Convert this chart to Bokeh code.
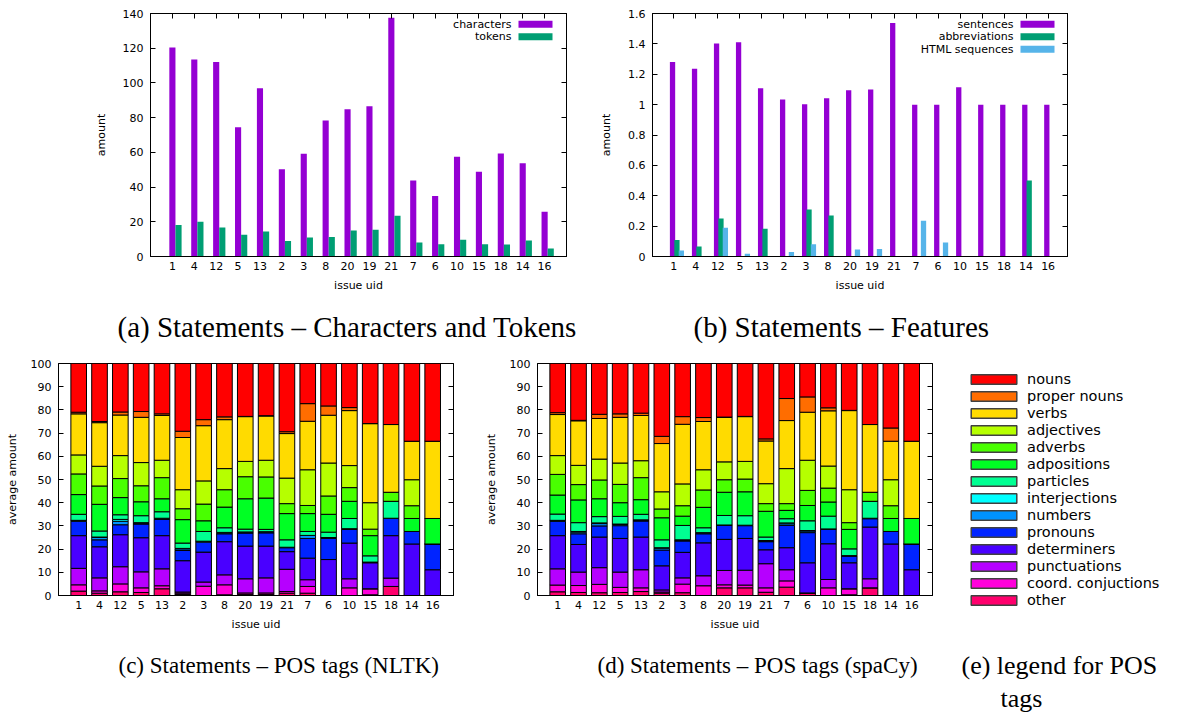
import numpy as np
from bokeh.plotting import figure
from bokeh.layouts import column, row
from bokeh.models import (FixedTicker, LinearAxis, Label, BoxAnnotation, Title,
                          Range1d, Legend, LegendItem)
from bokeh.embed import file_html
from bokeh.resources import INLINE

# ---------------- data ----------------
ISSUES = ["1", "4", "12", "5", "13", "2", "3", "8", "20", "19", "21",
          "7", "6", "10", "15", "18", "14", "16"]

CHARACTERS = [120.4, 113.5, 112.1, 74.4, 96.9, 50.2, 59.2, 78.3, 84.8, 86.5,
              137.5, 43.8, 34.8, 57.5, 48.8, 59.4, 53.7, 25.8]
TOKENS = [18.1, 20.0, 16.7, 12.5, 14.4, 9.0, 11.0, 11.2, 15.0, 15.4,
          23.5, 8.1, 7.1, 9.6, 7.1, 6.9, 9.2, 4.6]

SENTENCES = [1.281, 1.237, 1.402, 1.411, 1.108, 1.033, 1.002, 1.042, 1.095, 1.099,
             1.538, 1.0, 1.0, 1.114, 1.0, 1.0, 1.0, 1.0]
ABBREVIATIONS = [0.108, 0.066, 0.25, 0.0, 0.182, 0.0, 0.31, 0.27, 0.0, 0.0,
                 0.0, 0.0, 0.0, 0.0, 0.0, 0.0, 0.5, 0.0]
HTML_SEQUENCES = [0.04, 0.0, 0.19, 0.018, 0.0, 0.03, 0.08, 0.0, 0.046, 0.05,
                  0.0, 0.235, 0.092, 0.0, 0.0, 0.0, 0.0, 0.0]

Y1_TICKS = [0, 20, 40, 60, 80, 100, 120, 140]
Y2_TICKS = [0, 0.2, 0.4, 0.6, 0.8, 1, 1.2, 1.4, 1.6]
Y2_LABELS = ["0", "0.2", "0.4", "0.6", "0.8", "1", "1.2", "1.4", "1.6"]
Y3_TICKS = [0, 10, 20, 30, 40, 50, 60, 70, 80, 90, 100]

POS_TAGS = ["nouns", "proper nouns", "verbs", "adjectives", "adverbs", "adpositions",
            "particles", "interjections", "numbers", "pronouns", "determiners",
            "punctuations", "coord. conjuctions", "other"]
POS_COLORS = ["#FF0000", "#FF6D00", "#FFDB00", "#B6FF00", "#49FF00", "#00FF24",
              "#00FF92", "#00FFFF", "#0092FF", "#0024FF", "#4900FF", "#B600FF",
              "#FF00DB", "#FF006D"]

# cumulative average amount (%) at the top of each tag, stacked from the bottom:
# other, coord. conj., punctuations, determiners, pronouns, numbers, interjections,
# particles, adpositions, adverbs, adjectives, verbs, proper nouns, nouns
NLTK_CUM = {
    "1":  [1.9, 4.6, 11.7, 25.8, 32.0, 32.4, 32.4, 35.0, 43.5, 52.4, 60.6, 78.3, 79.0, 100],
    "4":  [1.0, 2.0, 7.6, 21.0, 24.0, 25.0, 25.2, 27.8, 39.3, 47.2, 55.7, 74.5, 75.0, 100],
    "12": [1.6, 5.0, 12.4, 26.2, 30.5, 32.0, 32.8, 34.8, 42.2, 50.4, 60.3, 77.8, 79.1, 100],
    "5":  [1.3, 3.3, 10.2, 24.9, 30.8, 31.2, 31.4, 34.4, 40.4, 47.3, 57.3, 76.8, 79.3, 100],
    "13": [2.9, 4.2, 11.5, 25.8, 32.8, 33.1, 33.3, 36.1, 41.7, 50.8, 58.3, 77.6, 78.3, 100],
    "2":  [0.4, 1.0, 1.5, 15.0, 19.4, 20.1, 20.3, 22.6, 32.7, 37.4, 45.6, 68.1, 70.8, 100],
    "3":  [0.0, 4.0, 5.8, 18.7, 23.0, 23.3, 23.4, 27.6, 32.2, 39.4, 49.4, 73.2, 75.8, 100],
    "8":  [0.3, 4.6, 8.9, 23.2, 26.6, 27.0, 27.2, 29.2, 38.1, 45.6, 54.7, 75.8, 77.0, 100],
    "20": [0.5, 1.1, 7.2, 21.3, 26.9, 27.3, 27.4, 28.6, 41.7, 51.2, 57.8, 77.1, 77.2, 100],
    "19": [0.5, 1.1, 7.6, 21.3, 27.0, 27.4, 27.5, 28.5, 42.0, 51.1, 58.3, 77.4, 77.5, 100],
    "21": [1.0, 1.7, 11.3, 18.9, 20.6, 20.7, 20.8, 24.0, 35.3, 39.6, 50.6, 69.8, 70.6, 100],
    "7":  [1.0, 3.9, 6.8, 16.1, 24.6, 25.9, 25.9, 27.6, 35.3, 38.8, 54.2, 75.1, 82.7, 100],
    "6":  [0.0, 0.0, 0.0, 15.5, 24.6, 24.9, 25.0, 27.3, 35.0, 42.9, 57.1, 77.7, 81.7, 100],
    "10": [0.0, 3.3, 7.2, 22.6, 28.5, 28.7, 28.8, 33.2, 40.6, 46.5, 56.0, 79.7, 81.0, 100],
    "15": [0.3, 2.9, 2.9, 14.1, 14.3, 14.3, 14.4, 17.1, 25.8, 28.6, 40.0, 74.1, 74.1, 100],
    "18": [3.9, 3.9, 7.5, 25.8, 33.2, 33.2, 33.3, 40.6, 40.6, 44.5, 44.5, 73.7, 73.7, 100],
    "14": [0.0, 0.0, 0.0, 22.2, 27.6, 27.6, 27.6, 27.6, 33.2, 38.7, 49.9, 66.5, 66.5, 100],
    "16": [0.0, 0.0, 0.0, 11.1, 22.2, 22.2, 22.2, 22.2, 33.2, 33.2, 33.2, 66.5, 66.5, 100],
}
SPACY_CUM = {
    "1":  [1.6, 4.5, 11.5, 25.8, 32.0, 32.3, 32.4, 35.1, 43.3, 52.2, 60.3, 78.0, 78.8, 100],
    "4":  [1.3, 4.3, 10.1, 22.0, 26.6, 27.3, 27.6, 31.4, 41.2, 47.8, 56.1, 75.3, 75.5, 100],
    "12": [1.2, 4.8, 12.0, 25.2, 30.0, 31.0, 31.3, 34.0, 41.7, 49.8, 58.8, 76.3, 78.1, 100],
    "5":  [1.3, 3.5, 10.1, 24.6, 30.1, 30.6, 30.8, 34.1, 40.0, 47.9, 57.1, 76.8, 78.3, 100],
    "13": [1.7, 3.3, 11.1, 25.2, 32.1, 32.5, 32.6, 35.0, 41.3, 50.8, 58.1, 77.6, 78.6, 100],
    "2":  [1.0, 1.5, 2.4, 12.8, 19.6, 20.4, 20.6, 24.0, 33.5, 37.3, 44.7, 65.5, 68.6, 100],
    "3":  [1.2, 4.9, 7.6, 18.6, 23.5, 23.8, 24.0, 30.2, 34.2, 38.7, 48.1, 73.8, 77.1, 100],
    "8":  [0.0, 4.2, 8.5, 22.7, 26.6, 27.0, 27.1, 29.2, 38.0, 45.5, 54.2, 75.0, 76.7, 100],
    "20": [3.3, 4.6, 10.8, 24.2, 30.2, 30.3, 30.4, 34.5, 44.5, 49.9, 57.6, 76.8, 76.9, 100],
    "19": [3.3, 4.5, 10.9, 24.6, 30.1, 30.2, 30.3, 34.4, 44.7, 50.2, 57.8, 77.1, 77.2, 100],
    "21": [1.4, 3.3, 13.7, 19.7, 23.2, 23.5, 23.7, 25.2, 36.3, 39.6, 48.2, 66.6, 67.5, 100],
    "7":  [3.6, 6.3, 11.1, 20.6, 30.2, 30.9, 31.3, 33.1, 36.7, 39.6, 54.7, 75.4, 84.9, 100],
    "6":  [1.1, 1.1, 1.1, 14.1, 27.1, 27.8, 28.0, 32.2, 38.8, 45.3, 58.3, 79.0, 85.6, 100],
    "10": [0.0, 3.3, 6.9, 22.3, 28.5, 28.6, 28.7, 34.2, 40.3, 46.3, 55.8, 79.6, 80.9, 100],
    "15": [0.3, 2.9, 2.9, 14.1, 17.0, 17.1, 17.2, 20.1, 28.5, 31.4, 45.6, 79.7, 79.8, 100],
    "18": [3.3, 3.3, 7.2, 29.5, 33.1, 33.2, 33.3, 40.6, 40.6, 44.5, 44.5, 73.7, 73.7, 100],
    "14": [0.0, 0.0, 0.0, 22.2, 27.6, 27.6, 27.6, 27.6, 33.2, 38.7, 49.9, 66.5, 72.2, 100],
    "16": [0.0, 0.0, 0.0, 11.1, 22.2, 22.2, 22.2, 22.2, 33.2, 33.2, 33.2, 66.5, 66.5, 100],
}

# ---------------- styling ----------------
FONT = "DejaVu Sans"
SERIF = "Liberation Serif"
TICK_FS = "11px"
PURPLE, GREEN, SKY = "#9400D3", "#009E73", "#56B4E9"
idx = np.arange(len(ISSUES))


def make_fig(w, h, xr, yr, bl, br, bt, bb):
    p = figure(width=w, height=h, x_range=Range1d(*xr), y_range=Range1d(*yr),
               output_backend="svg", toolbar_location=None,
               min_border_left=bl, min_border_right=br,
               min_border_top=bt, min_border_bottom=bb)
    p.xgrid.visible = False
    p.ygrid.visible = False
    p.outline_line_color = "black"
    p.outline_line_alpha = 1
    p.outline_line_width = 1
    p.background_fill_color = "white"
    p.border_fill_color = "white"
    return p


def mirror_axis(ticks):
    return LinearAxis(ticker=FixedTicker(ticks=ticks), major_tick_in=5, major_tick_out=0,
                      minor_tick_line_color=None, major_label_text_font_size="1px",
                      major_label_text_color=None, major_label_standoff=0,
                      axis_line_color="black")


def style_axes(p, yticks, ylabel, ylabels=None, top_ticks=True, ylab_standoff=12):
    xa = p.xaxis[0]
    xa.ticker = FixedTicker(ticks=list(range(len(ISSUES))))
    xa.major_label_overrides = {i: c for i, c in enumerate(ISSUES)}
    xa.major_tick_in = 0
    xa.major_tick_out = 0
    xa.minor_tick_line_color = None
    xa.axis_line_color = "black"
    xa.major_label_standoff = 5
    xa.major_label_text_font = FONT
    xa.major_label_text_font_size = TICK_FS
    xa.major_label_text_color = "black"
    xa.axis_label = "issue uid"
    xa.axis_label_standoff = 6
    xa.axis_label_text_font = FONT
    xa.axis_label_text_font_size = TICK_FS
    xa.axis_label_text_font_style = "normal"
    xa.axis_label_text_color = "black"

    ya = p.yaxis[0]
    ya.ticker = FixedTicker(ticks=yticks)
    if ylabels is not None:
        ya.major_label_overrides = dict(zip(yticks, ylabels))
    ya.major_tick_in = 5
    ya.major_tick_out = 0
    ya.minor_tick_line_color = None
    ya.axis_line_color = "black"
    ya.major_label_standoff = 7
    ya.major_label_text_font = FONT
    ya.major_label_text_font_size = TICK_FS
    ya.major_label_text_color = "black"
    ya.axis_label = ylabel
    ya.axis_label_standoff = ylab_standoff
    ya.axis_label_text_font = FONT
    ya.axis_label_text_font_size = TICK_FS
    ya.axis_label_text_font_style = "normal"
    ya.axis_label_text_color = "black"

    p.add_layout(mirror_axis(yticks), "right")
    if top_ticks:
        p.add_layout(mirror_axis(list(range(len(ISSUES)))), "above")


def add_caption(p, text, offset, standoff, size):
    p.add_layout(Title(text=text, align="left", offset=offset, standoff=standoff,
                       text_font=SERIF, text_font_size=size,
                       text_font_style="normal", text_color="black"), "below")


def add_key(p, entries, frame_h):
    for i, (lab, col) in enumerate(entries):
        yc = frame_h - 10.7 - 12.5 * i
        p.add_layout(BoxAnnotation(left=368, right=402, bottom=yc - 3.5, top=yc + 3.5,
                                   left_units="screen", right_units="screen",
                                   top_units="screen", bottom_units="screen",
                                   fill_color=col, fill_alpha=1, line_color=None))
        p.add_layout(Label(x=361, y=yc, x_units="screen", y_units="screen", text=lab,
                           text_align="right", text_baseline="middle",
                           text_font=FONT, text_font_size=TICK_FS, text_color="black"))


TOP_H = 357
# ---------------- (a) characters and tokens ----------------
p1 = make_fig(595, TOP_H, (-1, 18), (0, 140), 150, 29, 13, 101)
style_axes(p1, Y1_TICKS, "amount")
p1.vbar(x=idx + 0.0, top=CHARACTERS, width=0.28, fill_color=PURPLE, line_color=None)
p1.vbar(x=idx + 0.28, top=TOKENS, width=0.28, fill_color=GREEN, line_color=None)
add_key(p1, [("characters", PURPLE), ("tokens", GREEN)], 243)
add_caption(p1, "(a) Statements \u2013 Characters and Tokens", -33, 28, "29px")

# ---------------- (b) features ----------------
p2 = make_fig(485, TOP_H, (-0.97, 17.88), (0, 1.6), 57, 13, 13, 101)
style_axes(p2, Y2_TICKS, "amount", Y2_LABELS)
p2.vbar(x=idx - 0.06, top=SENTENCES, width=0.24, fill_color=PURPLE, line_color=None)
p2.vbar(x=idx + 0.14, top=ABBREVIATIONS, width=0.24, fill_color=GREEN, line_color=None)
p2.vbar(x=idx + 0.34, top=HTML_SEQUENCES, width=0.24, fill_color=SKY, line_color=None)
add_key(p2, [("sentences", PURPLE), ("abbreviations", GREEN), ("HTML sequences", SKY)], 243)
add_caption(p2, "(b) Statements \u2013 Features", 41, 28, "29px")


# ---------------- (c), (d) POS tags ----------------
def draw_stack(p, table):
    colors_up = POS_COLORS[::-1]
    for k in range(len(POS_TAGS)):
        tops = [table[c][k] for c in ISSUES]
        bottoms = [table[c][k - 1] if k > 0 else 0 for c in ISSUES]
        p.vbar(x=idx, bottom=bottoms, top=tops, width=0.75,
               fill_color=colors_up[k], line_color="black", line_width=1)


p3 = make_fig(481, 342, (-0.97, 18.0), (0, 100), 58, 28, 6, 104)
style_axes(p3, Y3_TICKS, "average amount", top_ticks=False, ylab_standoff=9)
draw_stack(p3, NLTK_CUM)
add_caption(p3, "(c) Statements \u2013 POS tags (NLTK)", 60, 35, "23px")

p4 = make_fig(464, 342, (-0.97, 18.0), (0, 100), 56, 13, 6, 104)
style_axes(p4, Y3_TICKS, "average amount", top_ticks=False, ylab_standoff=9)
draw_stack(p4, SPACY_CUM)
add_caption(p4, "(d) Statements \u2013 POS tags (spaCy)", 60, 35, "23px")

# ---------------- (e) legend ----------------
p5 = figure(width=236, height=359, x_range=Range1d(0, 1), y_range=Range1d(0, 1),
            output_backend="svg", toolbar_location=None, title=None,
            x_axis_location=None, y_axis_location=None,
            min_border_left=13, min_border_right=0, min_border_top=6, min_border_bottom=0)
p5.xgrid.visible = False
p5.ygrid.visible = False
p5.outline_line_color = None
p5.background_fill_color = "white"
p5.border_fill_color = "white"
items = []
for tag, col in zip(POS_TAGS, POS_COLORS):
    r = p5.vbar(x=[np.nan], top=[np.nan], width=0.5, fill_color=col,
                line_color="#404040", line_width=1.5)
    items.append(LegendItem(label=tag, renderers=[r]))
legend = Legend(items=items, location="top_left", orientation="vertical",
                glyph_width=57, glyph_height=12, label_standoff=5, label_height=17,
                spacing=0, padding=0, margin=7, border_line_color=None,
                background_fill_alpha=0, label_text_font=FONT,
                label_text_font_size="14.5px", label_text_color="black")
p5.add_layout(legend, "center")
p5.add_layout(Label(x=3, y=51, x_units="screen", y_units="screen",
                    text="(e) legend for POS", text_align="left", text_baseline="middle",
                    text_font=SERIF, text_font_size="26px", text_color="black"))
p5.add_layout(Label(x=42, y=18, x_units="screen", y_units="screen",
                    text="tags", text_align="left", text_baseline="middle",
                    text_font=SERIF, text_font_size="26px", text_color="black"))

layout = column(row(p1, p2), row(p3, p4, column(p5)))
open("out.html", "w").write(file_html(layout, INLINE))
